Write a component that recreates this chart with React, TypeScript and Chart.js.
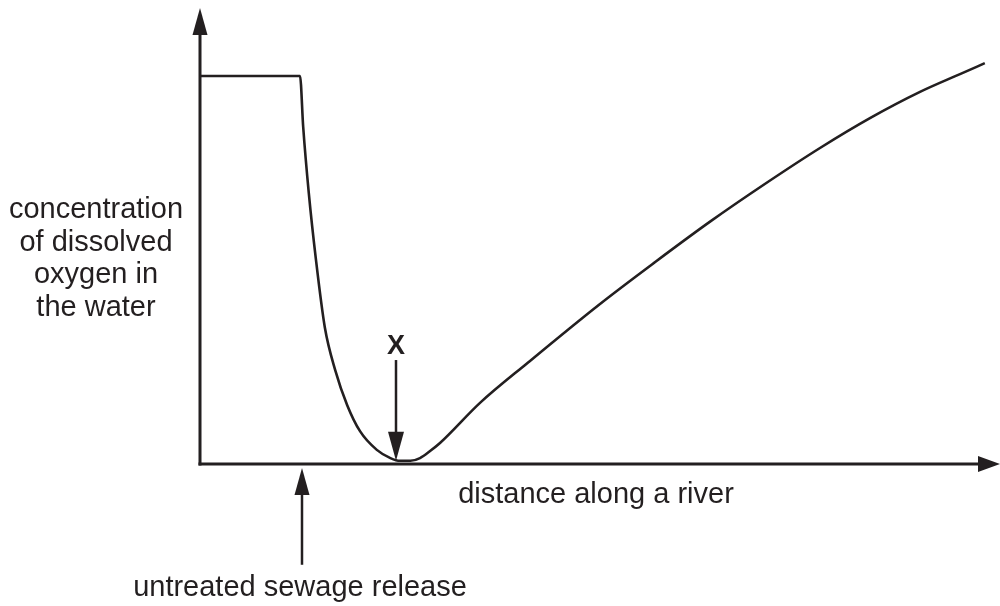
import React, { useEffect, useRef } from "react";
import { Chart, registerables } from "chart.js";

Chart.register(...registerables);

// Distance along the river (arbitrary units, 0–100) and dissolved oxygen (arbitrary units, 0–100)
const distance = [0, 12.5, 12.9, 13.6, 14.5, 15.6, 16.9, 18.4, 20, 22.1, 23.8, 25, 26.3, 27.5, 28.8, 30, 35, 40.9, 50, 56.9, 63.8, 70.6, 77.5, 83.8, 90, 95, 98.1];
const oxygen = [85.1, 85.1, 73.9, 59.4, 44.7, 30.0, 20.6, 12.9, 7.2, 3.1, 1.3, 0.7, 0.7, 1.3, 2.9, 4.6, 13.4, 22.1, 35.1, 44.3, 53.2, 61.4, 69.3, 75.9, 81.6, 85.5, 87.9];

const yTitleLines = ["concentration", "of dissolved", "oxygen in", "the water"];
const xTitle = "distance along a river";
const sewageLabel = "untreated sewage release";
const minLabel = "X";

// annotation arrows in data units: [x, tail y, tip y]
const sewageArrow = [12.75, -22.1, -0.9];
const minArrow = [24.5, 22.8, 0.7];

const INK = "#231f20";
const FONT = "'Liberation Sans', Arial, sans-serif";

function arrowHead(ctx: CanvasRenderingContext2D, tx: number, ty: number, dir: "up" | "down" | "right", len: number, half: number) {
  ctx.beginPath();
  if (dir === "up") {
    ctx.moveTo(tx, ty);
    ctx.lineTo(tx - half, ty + len);
    ctx.lineTo(tx + half, ty + len);
  } else if (dir === "down") {
    ctx.moveTo(tx, ty);
    ctx.lineTo(tx - half, ty - len);
    ctx.lineTo(tx + half, ty - len);
  } else {
    ctx.moveTo(tx, ty);
    ctx.lineTo(tx - len, ty - half);
    ctx.lineTo(tx - len, ty + half);
  }
  ctx.closePath();
  ctx.fill();
}

const decorPlugin = {
  id: "decor",
  afterDatasetsDraw(chart: any) {
    const { ctx, chartArea, scales } = chart;
    const xs = scales.x;
    const ys = scales.y;
    const ox = xs.getPixelForValue(0);
    const oy = ys.getPixelForValue(0);
    ctx.save();
    ctx.strokeStyle = INK;
    ctx.fillStyle = INK;
    ctx.lineCap = "butt";

    // axes
    ctx.lineWidth = 3;
    ctx.beginPath();
    ctx.moveTo(ox, oy + 1.5);
    ctx.lineTo(ox, chartArea.top + 26);
    ctx.stroke();
    arrowHead(ctx, ox, chartArea.top, "up", 27, 7.5);

    ctx.beginPath();
    ctx.moveTo(ox - 1.5, oy);
    ctx.lineTo(chartArea.right - 21, oy);
    ctx.stroke();
    arrowHead(ctx, chartArea.right, oy, "right", 22, 8);

    // sewage arrow
    ctx.lineWidth = 2.5;
    const sx = xs.getPixelForValue(sewageArrow[0]);
    const sTail = ys.getPixelForValue(sewageArrow[1]);
    const sTip = ys.getPixelForValue(sewageArrow[2]);
    ctx.beginPath();
    ctx.moveTo(sx, sTail);
    ctx.lineTo(sx, sTip + 20);
    ctx.stroke();
    arrowHead(ctx, sx, sTip, "up", 27, 7.5);

    // minimum arrow
    const mx = xs.getPixelForValue(minArrow[0]);
    const mTail = ys.getPixelForValue(minArrow[1]);
    const mTip = ys.getPixelForValue(minArrow[2]);
    ctx.beginPath();
    ctx.moveTo(mx, mTail);
    ctx.lineTo(mx, mTip - 20);
    ctx.stroke();
    arrowHead(ctx, mx, mTip, "down", 29, 8);

    // texts
    ctx.textAlign = "center";
    ctx.textBaseline = "alphabetic";
    ctx.font = `29px ${FONT}`;
    yTitleLines.forEach((t, i) => {
      ctx.fillText(t, ox - 104, 218 + i * 32.5);
    });
    ctx.fillText(xTitle, xs.getPixelForValue(49.5), oy + 39);
    ctx.fillText(sewageLabel, sx - 2, sTail + 31);
    ctx.font = `bold 27px ${FONT}`;
    ctx.fillText(minLabel, mx, mTail - 6);
    ctx.restore();
  },
};

export default function App() {
  const ref = useRef<HTMLCanvasElement | null>(null);
  useEffect(() => {
    document.body.style.margin = "0";
    const canvas = ref.current;
    if (!canvas) return;
    const chart = new Chart(canvas, {
      type: "scatter",
      data: {
        datasets: [
          {
            data: distance.map((d, i) => ({ x: d, y: oxygen[i] })),
            showLine: true,
            borderColor: INK,
            borderWidth: 2.6,
            pointRadius: 0,
            cubicInterpolationMode: "monotone",
            clip: false as any,
          },
        ],
      },
      options: {
        responsive: false,
        animation: false,
        layout: { padding: { left: 200, right: 0, top: 8, bottom: 142 } },
        plugins: { legend: { display: false }, tooltip: { enabled: false } },
        scales: {
          x: { type: "linear", min: 0, max: 100, display: false },
          y: { type: "linear", min: 0, max: 100, display: false },
        },
      },
      plugins: [decorPlugin],
    });
    return () => chart.destroy();
  }, []);
  return (
    <div style={{ position: "fixed", left: 0, top: 0, width: 1000, height: 606, background: "#fff" }}>
      <canvas ref={ref} width={1000} height={606} style={{ display: "block" }} />
    </div>
  );
}
